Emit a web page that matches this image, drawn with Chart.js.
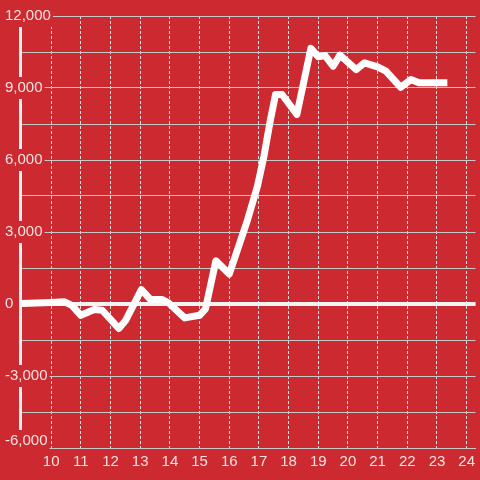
<!DOCTYPE html>
<html>
<head>
<meta charset="utf-8">
<script src="https://cdn.jsdelivr.net/npm/chart.js@4"></script>
<style>
  html, body { margin: 0; padding: 0; background: #cc2a30; }
  #wrap { width: 480px; height: 480px; }
</style>
</head>
<body>
<div id="wrap"><canvas id="chart" width="480" height="480"></canvas></div>
<script>
// Values
const hours = [9, 10, 10.45, 10.7, 11, 11.45, 11.72, 12.28, 12.5, 13.04, 13.34, 13.73, 13.95,
  14.5, 15, 15.2, 15.55, 16, 16.28, 16.62, 16.95, 17.17, 17.39, 17.56, 17.78, 18.28,
  18.75, 19, 19.23, 19.5, 19.73, 20.28, 20.56, 21, 21.28, 21.78, 22.12, 22.4, 23.35];
const values = [20, 60, 90, -60, -470, -230, -260, -1020, -700, 600, 190, 190, 50,
  -580, -470, -200, 1800, 1250, 2270, 3520, 4910, 6160, 7690, 8730, 8730, 7900,
  10650, 10300, 10350, 9910, 10370, 9770, 10050, 9880, 9700, 9030, 9350, 9220, 9220];

const xTickLabels = [10, 11, 12, 13, 14, 15, 16, 17, 18, 19, 20, 21, 22, 23, 24];
const yTickLabels = [-6000, -3000, 0, 3000, 6000, 9000, 12000];

const RED = '#cc2a30';
const LABEL = '#f4e2e2';
const FONT = { family: 'Liberation Sans, Arial, sans-serif', size: 15 };

// paint the red background under everything
const bgPlugin = {
  id: 'bg',
  beforeDraw(chart) {
    const c = chart.ctx;
    c.save();
    c.fillStyle = RED;
    c.fillRect(0, 0, chart.width, chart.height);
    c.restore();
  }
};

const bottomY = yTickLabels[0];
// main axis labels everything except the lowest one, which sits a bit higher
const isYLabel = v => yTickLabels.includes(v) && v !== bottomY;

new Chart(document.getElementById('chart'), {
  type: 'line',
  data: {
    datasets: [{
      data: hours.map((h, i) => ({ x: h, y: values[i] })),
      borderColor: '#ffffff',
      borderWidth: 7,
      borderJoinStyle: 'round',
      pointRadius: 0,
      tension: 0,
      fill: false
    }]
  },
  options: {
    responsive: false,
    animation: false,
    layout: { padding: { top: 16, left: 4, right: 0, bottom: 0 } },
    plugins: {
      legend: { display: false },
      tooltip: { enabled: false }
    },
    scales: {
      x: {
        type: 'linear',
        min: 8.95,
        max: 24.3,
        afterFit: s => { s.height = 32; },
        grid: { color: '#dddddd', lineWidth: 1, drawTicks: false },
        border: { color: '#c8c8c8', width: 1, dash: [3, 2] },
        ticks: {
          stepSize: 1,
          includeBounds: false,
          autoSkip: false,
          maxRotation: 0,
          padding: 5,
          color: LABEL,
          font: FONT,
          callback: v => xTickLabels.includes(v) ? String(v) : ''
        }
      },
      y: {
        min: -6000,
        max: 12000,
        weight: 0,
        afterFit: s => { s.width = 16; },
        grid: {
          drawTicks: false,
          color: ctx => ctx.tick && ctx.tick.value === 0 ? '#f4f4f4' : '#c8c8c8',
          lineWidth: ctx => ctx.tick && ctx.tick.value === 0 ? 4 : 1
        },
        border: { color: '#f0f0f0', width: 3 },
        ticks: {
          stepSize: 1500,
          mirror: true,
          crossAlign: 'near',
          padding: -15,
          color: LABEL,
          font: FONT,
          showLabelBackdrop: ctx => isYLabel(ctx.tick.value),
          backdropColor: RED,
          backdropPadding: 2,
          callback: v => isYLabel(v) ? v.toLocaleString('en-US') : ''
        }
      },
      // label-only axis for -6,000, shifted up ~7px
      yLow: {
        position: 'left',
        weight: 1,
        min: -6292,
        max: 11708,
        afterFit: s => { s.width = 0; },
        afterBuildTicks: s => { s.ticks = [{ value: bottomY }]; },
        grid: { display: false },
        border: { display: false },
        ticks: {
          mirror: true,
          crossAlign: 'near',
          padding: 1,
          color: LABEL,
          font: FONT,
          showLabelBackdrop: true,
          backdropColor: RED,
          backdropPadding: 2,
          callback: v => v.toLocaleString('en-US')
        }
      }
    }
  },
  plugins: [bgPlugin]
});
</script>
</body>
</html>
